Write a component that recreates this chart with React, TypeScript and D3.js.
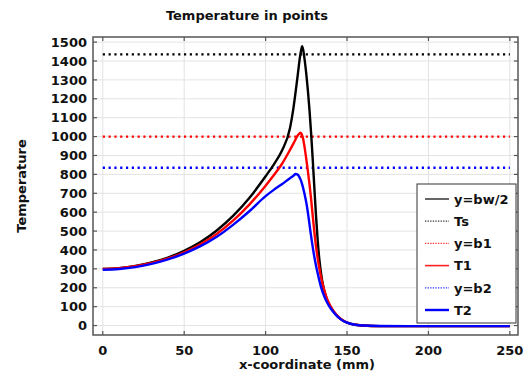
import React, { useEffect, useRef } from "react";
import * as d3 from "d3";

// y=bw/2 (black), x in mm and temperature
const centerX = [
  0, 10, 20, 30, 40, 50, 60, 70, 80, 90, 100, 105, 110, 115, 117, 119, 120, 121, 122, 122.4, 123, 124, 125, 126, 127,
  128, 129, 130, 131, 132, 133, 134, 135, 136, 138, 140, 143, 146, 150, 155, 160, 170, 200, 250,
];
const centerT = [
  300, 304, 315, 334, 360, 396, 442, 503, 580, 675, 790, 852, 925, 1045, 1145, 1275, 1345, 1415, 1465, 1478, 1462,
  1405, 1330, 1240, 1135, 1010, 870, 720, 575, 450, 350, 280, 225, 185, 130, 96, 60, 35, 15, 4, 0, -3, -3, -3,
];

// T1 (red)
const oneX = [
  0, 10, 20, 30, 40, 50, 60, 70, 80, 90, 100, 105, 110, 115, 118, 120, 121, 121.5, 122, 123, 124, 125, 126, 127, 128,
  129, 130, 131, 132, 133, 134, 135, 136, 138, 140, 143, 146, 150, 155, 160, 170, 200, 250,
];
const oneT = [
  300, 304, 314, 331, 355, 388, 430, 485, 555, 640, 740, 795, 855, 930, 978, 1010, 1018, 1021, 1016, 990, 940, 880,
  815, 745, 665, 575, 490, 415, 355, 303, 258, 220, 188, 135, 100, 62, 36, 16, 4, 0, -3, -3, -3,
];

// T2 (blue)
const twoX = [
  0, 10, 20, 30, 40, 50, 60, 70, 80, 90, 100, 105, 110, 115, 117, 118.4, 119.5, 120.5, 121.5, 122.5, 123.5, 124.5,
  125.5, 126.5, 127.5, 128.5, 130, 131, 132, 134, 136, 138, 140, 143, 146, 150, 155, 160, 170, 200, 250,
];
const twoT = [
  295, 299, 309, 326, 350, 381, 420, 470, 533, 605, 685, 718, 748, 780, 792, 802, 800, 790, 772, 746, 712, 672, 625,
  565, 500, 440, 360, 315, 275, 205, 155, 118, 90, 58, 34, 15, 4, 0, -2, -3, -3,
];

// horizontal reference levels: Ts, y=b1, y=b2
const refValues = [1435, 1000, 835];
const refColors = ["#000000", "#ff0000", "#0000ff"];

const xTicks = [0, 50, 100, 150, 200, 250];
const yTicks = [0, 100, 200, 300, 400, 500, 600, 700, 800, 900, 1000, 1100, 1200, 1300, 1400, 1500];

const legendNames = ["y=bw/2", "Ts", "y=b1", "T1", "y=b2", "T2"];

const FONT = "'DejaVu Sans', sans-serif";

const App = () => {
  const ref = useRef<SVGSVGElement | null>(null);

  useEffect(() => {
    const svg = d3.select(ref.current);
    svg.selectAll("*").remove();

    // plot box
    const left = 93;
    const right = 518;
    const top = 37;
    const bottom = 335;

    const x = d3.scaleLinear().domain([-6, 255]).range([left, right]);
    const y = d3.scaleLinear().domain([-50, 1527]).range([bottom, top]);

    svg.append("rect").attr("width", 532).attr("height", 373).attr("fill", "#fff");

    // grid
    const grid = svg.append("g").attr("stroke", "#e3e3e3").attr("stroke-width", 1);
    xTicks.forEach((t) => {
      grid.append("line").attr("x1", x(t)).attr("x2", x(t)).attr("y1", top).attr("y2", bottom);
    });
    yTicks.forEach((t) => {
      grid.append("line").attr("x1", left).attr("x2", right).attr("y1", y(t)).attr("y2", y(t));
    });

    // reference dotted lines
    refValues.forEach((v, i) => {
      svg
        .append("line")
        .attr("x1", x(0))
        .attr("x2", x(250))
        .attr("y1", y(v))
        .attr("y2", y(v))
        .attr("stroke", refColors[i])
        .attr("stroke-width", 2.3)
        .attr("stroke-dasharray", "2.2,3.6");
    });

    // curves
    const series = [
      { xs: centerX, ts: centerT, color: "#000000" },
      { xs: oneX, ts: oneT, color: "#ff0000" },
      { xs: twoX, ts: twoT, color: "#0000ff" },
    ];
    series.forEach((s) => {
      const line = d3
        .line<number>()
        .x((_, i) => x(s.xs[i]))
        .y((d) => y(d))
        .curve(d3.curveMonotoneX);
      svg
        .append("path")
        .attr("d", line(s.ts))
        .attr("fill", "none")
        .attr("stroke", s.color)
        .attr("stroke-width", 2.4)
        .attr("stroke-linejoin", "round");
    });

    // frame
    svg
      .append("rect")
      .attr("x", left)
      .attr("y", top)
      .attr("width", right - left)
      .attr("height", bottom - top)
      .attr("fill", "none")
      .attr("stroke", "#555")
      .attr("stroke-width", 1.5);

    // ticks on all sides
    const axes = svg.append("g").attr("stroke", "#555").attr("stroke-width", 1.2);
    xTicks.forEach((t) => {
      axes.append("line").attr("x1", x(t)).attr("x2", x(t)).attr("y1", bottom).attr("y2", bottom - 4);
      axes.append("line").attr("x1", x(t)).attr("x2", x(t)).attr("y1", top).attr("y2", top + 4);
    });
    yTicks.forEach((t) => {
      axes.append("line").attr("x1", left).attr("x2", left + 4).attr("y1", y(t)).attr("y2", y(t));
      axes.append("line").attr("x1", right).attr("x2", right - 4).attr("y1", y(t)).attr("y2", y(t));
    });

    // tick labels
    const labels = svg
      .append("g")
      .attr("font-family", FONT)
      .attr("font-weight", "bold")
      .attr("font-size", 13)
      .attr("fill", "#111");
    xTicks.forEach((t) => {
      labels.append("text").attr("x", x(t)).attr("y", 355).attr("text-anchor", "middle").text(t);
    });
    yTicks.forEach((t) => {
      labels
        .append("text")
        .attr("x", 87)
        .attr("y", y(t) + 4.7)
        .attr("text-anchor", "end")
        .text(t);
    });

    // title and axis labels
    const titles = svg
      .append("g")
      .attr("font-family", FONT)
      .attr("font-weight", "bold")
      .attr("font-size", 13)
      .attr("fill", "#111");
    titles.append("text").attr("x", 247).attr("y", 20).attr("text-anchor", "middle").text("Temperature in points");
    titles
      .append("text")
      .attr("x", 307)
      .attr("y", 369)
      .attr("text-anchor", "middle")
      .text("x-coordinate (mm)");
    titles
      .append("text")
      .attr("transform", `translate(26,${(top + bottom) / 2}) rotate(-90)`)
      .attr("text-anchor", "middle")
      .text("Temperature");

    // legend
    const lg = svg.append("g");
    lg.append("rect")
      .attr("x", 417)
      .attr("y", 184)
      .attr("width", 99)
      .attr("height", 139)
      .attr("fill", "#fff")
      .attr("stroke", "#333")
      .attr("stroke-width", 1);

    const legendStyles = [
      { color: "#333", dash: null, w: 1.5 },
      { color: "#333", dash: "1.3,1.3", w: 1.2 },
      { color: "#ff3030", dash: "1.3,1.3", w: 1.2 },
      { color: "#ff2020", dash: null, w: 1.6 },
      { color: "#3030ff", dash: "1.3,1.3", w: 1.2 },
      { color: "#0000ff", dash: null, w: 2.4 },
    ];
    legendNames.forEach((name, i) => {
      const ly = 199 + i * 22.2;
      const st = legendStyles[i];
      const l = lg
        .append("line")
        .attr("x1", 425)
        .attr("x2", 449)
        .attr("y1", ly)
        .attr("y2", ly)
        .attr("stroke", st.color)
        .attr("stroke-width", st.w);
      if (st.dash) l.attr("stroke-dasharray", st.dash);
      lg.append("text")
        .attr("x", 454)
        .attr("y", ly + 4.8)
        .attr("font-family", FONT)
        .attr("font-weight", "bold")
        .attr("font-size", 13)
        .attr("fill", "#111")
        .text(name);
    });
  }, []);

  return <svg ref={ref} width={532} height={373} style={{ position: "absolute", left: 0, top: 0 }} />;
};

export default App;
